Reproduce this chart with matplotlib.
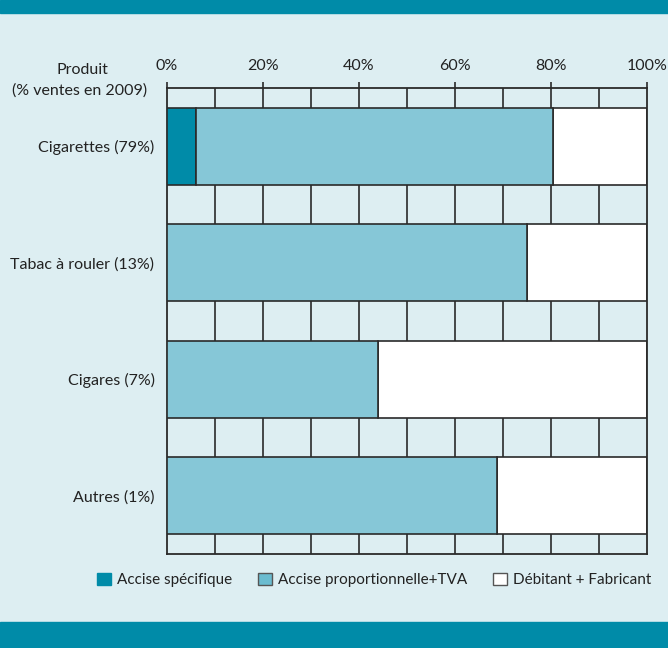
import numpy as np
import matplotlib.pyplot as plt
from matplotlib.patches import Patch, Rectangle

# data (share of retail price, %)
produits = ['Cigarettes (79%)', 'Tabac à rouler (13%)', 'Cigares (7%)', 'Autres (1%)']
accise_specifique = [6.0, 0.0, 0.0, 0.0]
accise_prop_tva = [74.4, 75.0, 44.0, 68.8]
debitant_fabricant = [19.6, 25.0, 56.0, 31.2]
ticks = [0, 20, 40, 60, 80, 100]
tick_labels = ['0%', '20%', '40%', '60%', '80%', '100%']

teal = '#008BA8'
light = '#86C7D7'
bg = '#DDEEF2'
line = '#2a2a2a'
txt = '#222222'
fs = 11.5

plt.rcParams['font.family'] = ['Lato', 'DejaVu Sans']

W, H = 668, 648
fig = plt.figure(figsize=(W / 100, H / 100), dpi=100)
fig.patch.set_facecolor(bg)

# banners top and bottom
fig.patches.append(Rectangle((0, 1 - 13 / H), 1, 13 / H, transform=fig.transFigure,
                             color=teal, zorder=0))
fig.patches.append(Rectangle((0, 0), 1, 26 / H, transform=fig.transFigure,
                             color=teal, zorder=0))

ax = fig.add_axes([167 / W, 1 - 554 / H, 480 / W, 466 / H])
ax.set_facecolor(bg)

y = np.arange(len(produits))
h = 0.66
left2 = np.array(accise_specifique)
left3 = left2 + np.array(accise_prop_tva)

# grid cells (behind bars)
ax.vlines(np.arange(10, 100, 10), -0.5, 3.5, color=line, lw=1.2, zorder=1)

ax.barh(y, accise_specifique, height=h, color=teal, edgecolor=line, lw=1.2, zorder=3)
ax.barh(y, accise_prop_tva, left=left2, height=h, color=light, edgecolor=line, lw=1.2, zorder=3)
ax.barh(y, debitant_fabricant, left=left3, height=h, color='white', edgecolor=line, lw=1.2, zorder=2)

ax.set_xlim(0, 100)
ax.set_ylim(3.5, -0.5)
for s in ax.spines.values():
    s.set_color(line)
    s.set_linewidth(1.3)

ax.xaxis.tick_top()
ax.set_xticks(ticks)
ax.set_xticklabels(tick_labels, fontsize=fs, color=txt)
ax.tick_params(axis='x', length=4, width=1.2, color=line, pad=7)
ax.set_yticks(y)
ax.set_yticklabels(produits, fontsize=fs, color=txt)
ax.tick_params(axis='y', length=0, pad=9)

fig.text(82 / W, 1 - 70 / H, 'Produit', ha='center', va='center', fontsize=fs, color=txt)
fig.text(80 / W, 1 - 91 / H, '(% ventes en 2009)', ha='center', va='center', fontsize=fs,
         color=txt)

handles = [Patch(facecolor=teal, edgecolor=teal),
           Patch(facecolor='#6BBCD0', edgecolor='#555555'),
           Patch(facecolor='white', edgecolor='#555555')]
labels = ['Accise spécifique', 'Accise proportionnelle+TVA', 'Débitant + Fabricant']
fig.legend(handles, labels, loc='center', bbox_to_anchor=(374 / W, 1 - 580 / H), ncol=3,
           frameon=False, fontsize=11, handlelength=0.9, handleheight=0.9,
           handletextpad=0.4, columnspacing=1.7, labelcolor=txt)

fig.savefig('out.png', dpi=100, facecolor=bg)
